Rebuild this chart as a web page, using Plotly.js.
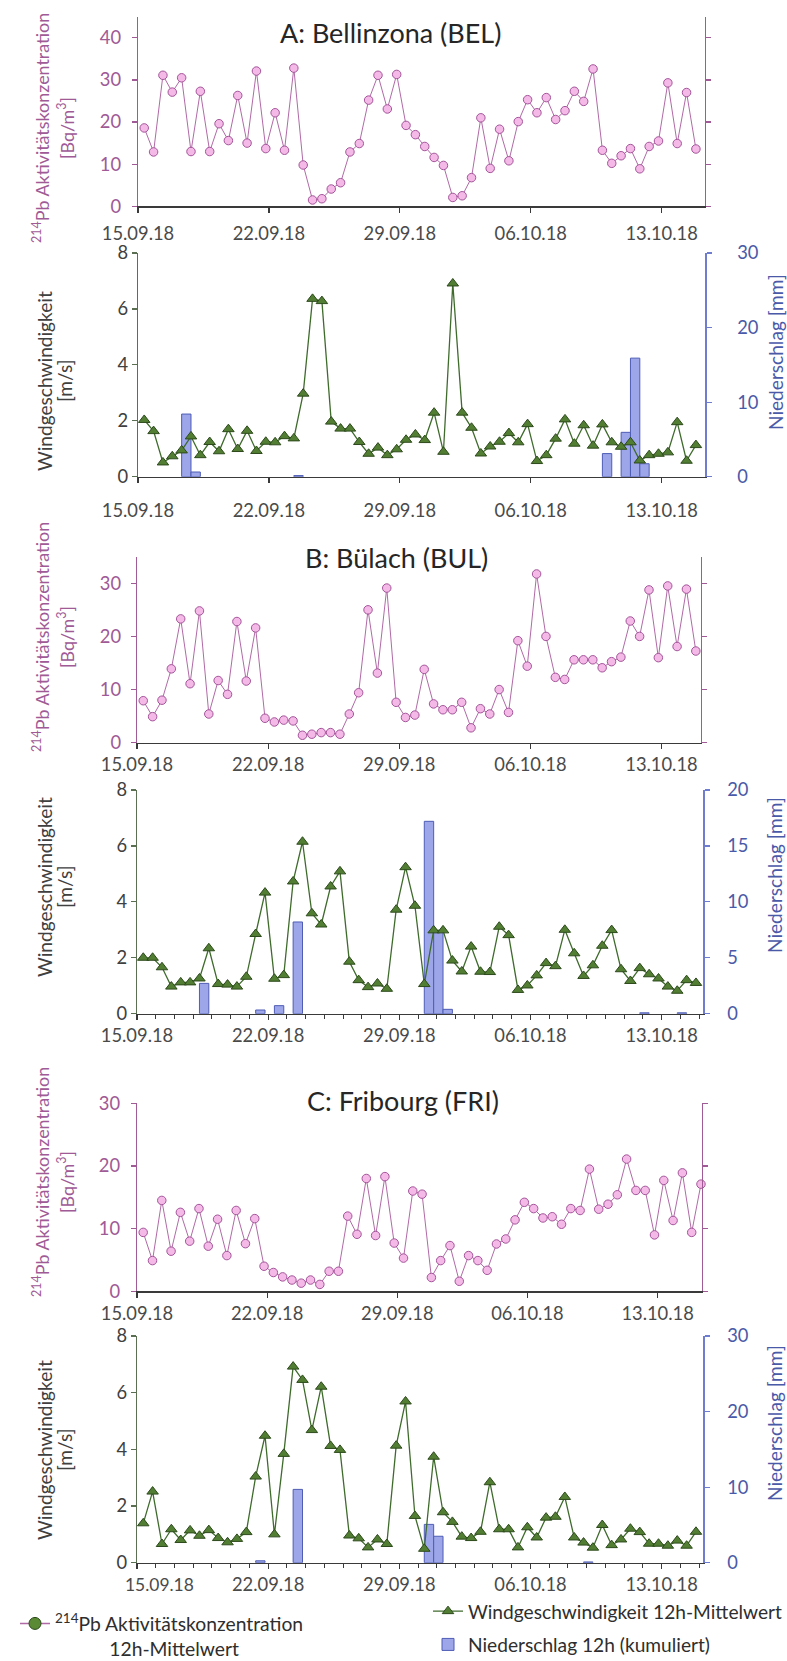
<!DOCTYPE html>
<html>
<head>
<meta charset="utf-8">
<script src="https://cdn.plot.ly/plotly-3.0.1.min.js"></script>
<style>
html,body{margin:0;padding:0;background:#fff;}
#chart{width:787px;height:1661px;}
</style>
</head>
<body>
<div id="chart"></div>
<script>
// ---------- DATA ----------
const times = [
"2018-09-15 08:00","2018-09-15 20:00","2018-09-16 08:00","2018-09-16 20:00","2018-09-17 08:00","2018-09-17 20:00",
"2018-09-18 08:00","2018-09-18 20:00","2018-09-19 08:00","2018-09-19 20:00","2018-09-20 08:00","2018-09-20 20:00",
"2018-09-21 08:00","2018-09-21 20:00","2018-09-22 08:00","2018-09-22 20:00","2018-09-23 08:00","2018-09-23 20:00",
"2018-09-24 08:00","2018-09-24 20:00","2018-09-25 08:00","2018-09-25 20:00","2018-09-26 08:00","2018-09-26 20:00",
"2018-09-27 08:00","2018-09-27 20:00","2018-09-28 08:00","2018-09-28 20:00","2018-09-29 08:00","2018-09-29 20:00",
"2018-09-30 08:00","2018-09-30 20:00","2018-10-01 08:00","2018-10-01 20:00","2018-10-02 08:00","2018-10-02 20:00",
"2018-10-03 08:00","2018-10-03 20:00","2018-10-04 08:00","2018-10-04 20:00","2018-10-05 08:00","2018-10-05 20:00",
"2018-10-06 08:00","2018-10-06 20:00","2018-10-07 08:00","2018-10-07 20:00","2018-10-08 08:00","2018-10-08 20:00",
"2018-10-09 08:00","2018-10-09 20:00","2018-10-10 08:00","2018-10-10 20:00","2018-10-11 08:00","2018-10-11 20:00",
"2018-10-12 08:00","2018-10-12 20:00","2018-10-13 08:00","2018-10-13 20:00","2018-10-14 08:00","2018-10-14 20:00",
"2018-10-15 08:00"];

const tickDates  = ["2018-09-15","2018-09-22","2018-09-29","2018-10-06","2018-10-13"];
const tickLabels = ["15.09.18","22.09.18","29.09.18","06.10.18","13.10.18"];
const panelTitles = ["A: Bellinzona (BEL)","B: Bülach (BUL)","C: Fribourg (FRI)"];

// 214Pb activity concentration [Bq/m3], 12h means
const concA = [18.6,12.9,31.1,27.1,30.5,13.0,27.3,13.0,19.6,15.6,26.3,15.0,32.1,13.7,22.2,13.3,32.8,9.8,1.5,1.8,
4.1,5.6,12.9,14.9,25.2,31.1,23.1,31.3,19.2,17.0,14.2,11.6,9.7,2.1,2.5,6.8,21.0,9.0,18.3,10.8,
20.1,25.3,22.2,25.8,20.6,22.7,27.3,24.9,32.6,13.3,10.2,12.0,13.7,8.9,14.2,15.5,29.3,14.9,27.0,13.6];
const concB = [7.9,4.9,8.0,13.9,23.3,11.1,24.8,5.4,11.7,9.1,22.8,11.6,21.6,4.6,3.9,4.25,4.1,1.4,1.6,1.9,
1.9,1.6,5.4,9.4,25.0,13.1,29.1,7.6,4.75,5.2,13.8,7.3,6.2,6.2,7.6,2.8,6.4,5.4,10.0,5.7,
19.2,14.4,31.75,20.0,12.3,11.9,15.6,15.6,15.6,14.1,15.25,16.1,22.9,20.0,28.75,16.0,29.5,18.1,28.9,17.25];
const concC = [9.4,4.9,14.5,6.4,12.6,8.0,13.2,7.2,11.5,5.7,12.9,7.6,11.6,4.0,3.0,2.3,1.8,1.3,1.8,1.1,
3.2,3.2,12.0,9.1,18.0,8.9,18.3,7.7,5.3,16.0,15.5,2.2,4.9,7.3,1.6,5.7,4.9,3.35,7.55,8.35,
11.4,14.2,13.2,11.7,11.9,10.7,13.2,12.9,19.5,13.1,13.9,15.4,21.1,16.1,16.1,9.0,17.7,11.3,18.9,9.4,17.1];

// wind speed [m/s], 12h means
const windA = [2.03,1.63,0.51,0.73,0.94,1.44,0.77,1.24,0.91,1.70,0.99,1.64,0.92,1.25,1.23,1.45,1.37,2.97,6.36,6.28,
1.97,1.72,1.72,1.24,0.82,1.04,0.77,0.98,1.32,1.51,1.31,2.29,0.89,6.91,2.29,1.75,0.83,1.08,1.25,1.56,
1.23,1.88,0.56,0.77,1.36,2.05,1.18,1.84,1.11,1.87,1.23,1.07,1.23,0.58,0.77,0.82,0.87,1.95,0.57,1.13];
const windB = [2.0,2.0,1.66,0.97,1.12,1.12,1.26,2.34,1.06,1.04,0.97,1.32,2.85,4.33,1.25,1.38,4.73,6.15,3.59,3.19,
4.55,5.09,1.86,1.20,0.95,1.08,0.89,3.72,5.24,3.86,1.06,2.98,2.98,1.90,1.51,2.40,1.50,1.49,3.11,2.81,
0.85,1.01,1.37,1.81,1.70,3.00,2.16,1.35,1.73,2.43,2.99,1.59,1.17,1.63,1.41,1.26,0.97,0.82,1.20,1.10];
const windC = [1.39,2.51,0.66,1.18,0.80,1.14,0.95,1.15,0.87,0.72,0.84,1.08,3.04,4.48,1.00,3.84,6.92,6.45,4.68,6.21,
4.12,3.98,0.96,0.86,0.54,0.82,0.66,4.13,5.69,1.65,0.49,3.74,1.78,1.44,0.92,0.87,1.09,2.84,1.18,1.18,
0.54,1.25,0.89,1.59,1.62,2.32,0.89,0.71,0.53,1.33,0.62,0.82,1.20,1.08,0.67,0.67,0.60,0.78,0.60,1.09];

// precipitation [mm], 12h sums (interval starting at the time stamp)
const precipA = [0,0,0,0,8.4,0.63,0,0,0,0,0,0,0,0,0,0,0.15,0,0,0,
0,0,0,0,0,0,0,0,0,0,0,0,0,0,0,0,0,0,0,0,
0,0,0,0,0,0,0,0,0,3.1,0,5.95,15.9,1.74,0,0,0,0,0,0];
const precipB = [0,0,0,0,0,0,2.71,0,0,0,0,0,0.33,0,0.72,0,8.2,0,0,0,
0,0,0,0,0,0,0,0,0,0,17.2,7.45,0.39,0,0,0,0,0,0,0,
0,0,0,0,0,0,0,0,0,0,0,0,0,0.08,0,0,0,0.08,0,0];
const precipC = [0,0,0,0,0,0,0,0,0,0,0,0,0.25,0,0,0,9.7,0,0,0,
0,0,0,0,0,0,0,0,0,0,5.07,3.5,0,0,0,0,0,0,0,0,
0,0,0,0,0,0,0,0.1,0,0,0,0,0,0,0,0,0,0,0,0];

// ---------- STYLE ----------
const W = 787, H = 1661;
const fx = p => p / W, fy = p => 1 - p / H;
const FAM = 'Lato';
const FONT = 'Lato, "Open Sans", sans-serif';
const PURPLE = '#a05a96', DARK = '#3a3a3a', LBL = '#4a4a4a', GAX = '#5b6f52', BLUE = '#4b5aa8', BLUEAX = '#6f7dd0';
const DAY = 86400000, HALF = 43200000;

// font sizes fitted so that texts get the widths they have in the original
const ctx = document.createElement('canvas').getContext('2d');
function textW(t, size){ ctx.font = size + 'px ' + FAM; return ctx.measureText(t).width; }
function fit(pairs){
  let s = 0; pairs.forEach(([t, w]) => { s += 100 * w / textW(t, 100); });
  const v = s / pairs.length; return Math.min(32, Math.max(12, v));
}
const TICK = fit([['15.09.18',72.5],['22.09.18',72.5]]);
const TITLE = fit([['A: Bellinzona (BEL)',223],['B: Bülach (BUL)',181],['C: Fribourg (FRI)',193]]);
const LEG2 = fit([['Windgeschwindigkeit 12h-Mittelwert',314]]);
const LEG1 = fit([['Pb Aktivitätskonzentration',225],['12h-Mittelwert',130]]);
const YTW = fit([['Windgeschwindigkeit',178],['[m/s]',43]]);
const YTP = fit([['Niederschlag [mm]',156]]);
const YTC = fit([['Pb Aktivitätskonzentration',216],['[Bq/m3]',63]]);
const nb = n => '\u00a0'.repeat(Math.max(0, Math.round(n)));
const nbW = textW('\u00a0', LEG1) || 4;

const concLine = {color:'#b06aa6', width:1};
const concMarker = {symbol:'circle', size:8.5, color:'#f5b9e7', line:{color:'#a3559a', width:1}};
const windLine = {color:'#3f6b2c', width:1.3};
const windMarker = {symbol:'triangle-up', size:10, color:'#527e33', line:{color:'#2d4a1c', width:1}};
const barMarker = {color:'#9ca6e8', line:{color:'#4f5db5', width:1}};

const panels = [
  {conc:concA, wind:windA, prec:precipA, cTop:16.7, cBot:206.3, cMax:45, wTop:253, wBot:476.7, pMax:30, pDt:10,
   cL:138, cR:705, cEnd:'2018-10-15 07:40', wL:138, wR:705, wEnd:'2018-10-15 07:40', minor:false,
   cxStand:5, wxStand:12, cyStand:7, wyStand:15.5, pyStand:22,
   title:[390,33], cTitleY:128, wTitleY:381, pTitle:[776,352]},
  {conc:concB, wind:windB, prec:precipB, cTop:556.7, cBot:742.7, cMax:35, wTop:790, wBot:1013.7, pMax:20, pDt:5,
   cL:137, cR:700.5, cEnd:'2018-10-15 02:00', wL:137, wR:703, wEnd:'2018-10-15 05:00', minor:true,
   cxStand:8.5, wxStand:9.3, cyStand:6, wyStand:12.5, pyStand:14,
   title:[396.6,557.7], cTitleY:637, wTitleY:887, pTitle:[774,875]},
  {conc:concC, wind:windC, prec:precipC, cTop:1103.3, cBot:1291.3, cMax:30, wTop:1336, wBot:1562.7, pMax:30, pDt:10,
   cL:137, cR:701.5, cEnd:'2018-10-15 08:40', wL:137, wR:703, wEnd:'2018-10-15 05:00', minor:true,
   cxStand:8.4, wxStand:0.5, cyStand:7, wyStand:12.5, pyStand:14,
   title:[402.8,1100.7], cTitleY:1182, wTitleY:1450, pTitle:[774,1423]}
];

const traces = [];
const layout = {
  width:W, height:H, margin:{l:0,r:0,t:0,b:0,autoexpand:false}, paper_bgcolor:'#fff', plot_bgcolor:'rgba(0,0,0,0)',
  font:{family:FONT, size:TICK, color:LBL}, showlegend:true, annotations:[], bargap:0
};

function xAxis(l, r, end, anchor, stand, minor, blankFirst){
  const ax = {domain:[fx(l), fx(r)], type:'date', range:['2018-09-15 00:00', end], anchor:anchor,
    tickmode:'array', tickvals:tickDates, ticktext: blankFirst ? [''].concat(tickLabels.slice(1)) : tickLabels,
    showline:true, linecolor:DARK, linewidth:1.5, ticks:'outside', ticklen:5, tickwidth:1.2, tickcolor:DARK,
    tickfont:{family:FONT, size:TICK, color:LBL}, ticklabelstandoff:stand,
    showgrid:false, zeroline:false, fixedrange:true};
  if (minor) ax.minor = {tickmode:'linear', tick0:'2018-09-15', dtick:DAY, ticks:'outside', ticklen:4, tickcolor:DARK, tickwidth:1, showgrid:false};
  return ax;
}

panels.forEach((p, i) => {
  const xc = i === 0 ? 'x' : 'x' + (2*i+1), xw = 'x' + (2*i+2);
  const yc = i === 0 ? 'y' : 'y' + (3*i+1), yp = 'y' + (3*i+2), yw = 'y' + (3*i+3);
  const axName = s => s.replace(/^x/, 'xaxis').replace(/^y/, 'yaxis');

  traces.push({type:'scatter', mode:'lines+markers', x:times.slice(0, p.conc.length), y:p.conc,
    xaxis:xc, yaxis:yc, line:concLine, marker:concMarker, cliponaxis:false, showlegend:false, hoverinfo:'skip'});
  traces.push({type:'bar', x:times.slice(0, p.prec.length), y:p.prec.map(v => v > 0 ? v : null),
    xaxis:xw, yaxis:yp, width:HALF, offset:0, marker:barMarker,
    name:'Niederschlag 12h (kumuliert)', legend:'legend2', legendgroup:'prec', legendrank:2,
    showlegend:i === 2, hoverinfo:'skip'});
  traces.push({type:'scatter', mode:'lines+markers', x:times.slice(0, p.wind.length), y:p.wind,
    xaxis:xw, yaxis:yw, line:windLine, marker:windMarker, cliponaxis:false,
    name:'Windgeschwindigkeit 12h-Mittelwert', legend:'legend2', legendgroup:'wind', legendrank:1,
    showlegend:i === 2, hoverinfo:'skip'});

  layout[axName(xc)] = xAxis(p.cL, p.cR, p.cEnd, yc, p.cxStand, false, false);
  layout[axName(xw)] = xAxis(p.wL, p.wR, p.wEnd, yp, p.wxStand, p.minor, i === 2);

  layout[axName(yc)] = {domain:[fy(p.cBot), fy(p.cTop)], range:[0, p.cMax], tickmode:'linear', tick0:0, dtick:10,
    anchor:xc, showline:true, linecolor:PURPLE, linewidth:1.3, mirror:'ticks',
    ticks:'outside', ticklen:5, tickwidth:1.2, tickcolor:PURPLE, ticklabelstandoff:p.cyStand,
    tickfont:{family:FONT, size:TICK, color:PURPLE}, showgrid:false, zeroline:false, fixedrange:true};
  layout[axName(yp)] = {domain:[fy(p.wBot), fy(p.wTop)], range:[0, p.pMax], tickmode:'linear', tick0:0, dtick:p.pDt,
    anchor:xw, side:'right', showline:true, linecolor:BLUEAX, linewidth:1.5,
    ticks:'outside', ticklen:5, tickwidth:1.2, tickcolor:BLUEAX, ticklabelstandoff:p.pyStand,
    tickfont:{family:FONT, size:TICK, color:BLUE}, showgrid:false, zeroline:false, fixedrange:true};
  layout[axName(yw)] = {range:[0, 8], tickmode:'linear', tick0:0, dtick:2, overlaying:yp, side:'left', anchor:xw,
    showline:true, linecolor:GAX, linewidth:1.2, ticks:'outside', ticklen:5, tickwidth:1.2, tickcolor:GAX,
    ticklabelstandoff:p.wyStand, tickfont:{family:FONT, size:TICK, color:'#404040'},
    showgrid:false, zeroline:false, fixedrange:true};

  const A = layout.annotations;
  const ann = (x, y, text, size, color, angle) => A.push({xref:'paper', yref:'paper', x:fx(x), y:fy(y), text:text,
    showarrow:false, xanchor:'center', yanchor:'middle', textangle:angle || 0, font:{family:FONT, size:size, color:color}});
  ann(p.title[0], p.title[1], panelTitles[i], TITLE, '#262626');
  ann(41, p.cTitleY, '<sup>214</sup>Pb Aktivitätskonzentration', YTC, PURPLE, -90);
  ann(66, p.cTitleY, '[Bq/m<sup>3</sup>]', YTC, PURPLE, -90);
  ann(44, p.wTitleY, 'Windgeschwindigkeit', YTW, '#404040', -90);
  ann(64, p.wTitleY, '[m/s]', YTW, '#404040', -90);
  ann(p.pTitle[0], p.pTitle[1], 'Niederschlag [mm]', YTP, BLUE, -90);
});

// displaced first date label of the bottom panel
layout.annotations.push({xref:'paper', yref:'paper', x:fx(159), y:fy(1584), text:tickLabels[0], showarrow:false,
  xanchor:'center', yanchor:'middle', font:{family:FONT, size:TICK * 0.95, color:LBL}});

// legend-only entry for the concentration series (symbol as drawn in the original legend)
traces.push({type:'scatter', mode:'lines+markers', x:[null], y:[null], xaxis:'x6', yaxis:'y9',
  name:'<sup>214</sup>Pb Aktivitätskonzentration<br>' + nb(53 / nbW) + '12h-Mittelwert',
  line:{color:'#b06aa6', width:1.5}, marker:{symbol:'circle', size:12, color:'#5b8a35', line:{color:'#2d4a1c', width:1}},
  legend:'legend', showlegend:true, hoverinfo:'skip'});

// legend placement (Plotly: item text starts 40 px right of the legend edge)
const lh1 = 1.3 * LEG1, lh2 = 1.3 * LEG2;
const top1 = 1624 - ((2 * lh1 + 3) / 2 + 5 - 0.2 * lh1 - 0.36 * LEG1);
const top2 = 1611.7 - ((lh2 + 3) / 2 + 5 + 0.3 * lh2 - 0.36 * LEG2);
layout.legend = {x:fx(15), y:fy(top1), xanchor:'left', yanchor:'top', bgcolor:'rgba(0,0,0,0)', valign:'top',
  font:{family:FONT, size:LEG1, color:'#2e2e2e'}, itemwidth:30};
layout.legend2 = {x:fx(428), y:fy(top2), xanchor:'left', yanchor:'top', bgcolor:'rgba(0,0,0,0)', traceorder:'grouped',
  font:{family:FONT, size:LEG2, color:'#2e2e2e'}, itemwidth:30, tracegroupgap:Math.max(0, 33.3 - (lh2 + 3))};

Plotly.newPlot('chart', traces, layout, {displayModeBar:false, staticPlot:true});
</script>
</body>
</html>
